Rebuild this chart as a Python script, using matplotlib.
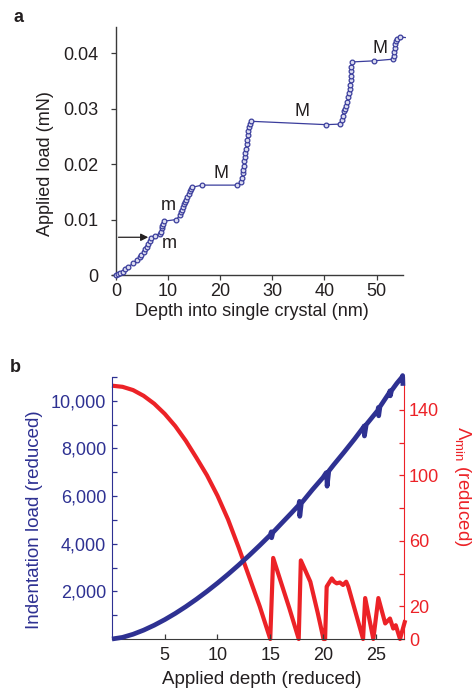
import matplotlib
matplotlib.use("Agg")
import matplotlib.pyplot as plt
import numpy as np

plt.rcParams['font.family'] = ['Liberation Sans', 'DejaVu Sans']
plt.rcParams['mathtext.fontset'] = 'custom'
plt.rcParams['mathtext.rm'] = 'Liberation Sans'
plt.rcParams['mathtext.it'] = 'Liberation Sans:italic'

# ---------------- Panel a data: depth (nm) vs applied load (mN)
depth_a = [0.1, 0.4, 0.8, 1.3, 1.8, 2.4, 3.3, 4.0, 4.6, 4.9, 5.3, 5.6, 5.9, 6.2,
           6.5, 6.8, 7.5, 8.4, 8.6, 8.75, 8.9, 9.05, 9.25, 11.6, 12.3, 12.5,
           12.7, 12.9, 13.1, 13.3, 13.5, 13.7, 14.0, 14.3, 14.45, 14.6, 16.5,
           23.3, 24.0, 24.2, 24.35, 24.45, 24.55, 24.65, 24.75, 24.85, 24.95,
           25.05, 25.15, 25.25, 25.35, 25.5, 25.7, 26.0, 40.3, 43.0, 43.3, 43.5,
           43.7, 43.9, 44.2, 44.4, 44.55, 44.7, 44.8, 44.9, 45.0, 45.05, 45.1,
           45.15, 45.25, 49.5, 53.1, 53.3, 53.4, 53.5, 53.6, 53.8, 54.0, 54.5,
           55.5]
load_a = [0.0, 0.0001, 0.0003, 0.0006, 0.0010, 0.0015, 0.0021, 0.0027, 0.0032,
          0.0036, 0.0042, 0.0046, 0.0051, 0.0056, 0.0061, 0.0066, 0.0070,
          0.0074, 0.0078, 0.0084, 0.0088, 0.0092, 0.0097, 0.0100, 0.0108,
          0.0113, 0.0118, 0.0123, 0.0128, 0.0132, 0.0136, 0.0140, 0.0146,
          0.0151, 0.0155, 0.0158, 0.0162, 0.0162, 0.0168, 0.0175, 0.0183,
          0.0190, 0.0197, 0.0205, 0.0212, 0.0220, 0.0228, 0.0236, 0.0244,
          0.0252, 0.0260, 0.0267, 0.0273, 0.0277, 0.0271, 0.0272, 0.0279,
          0.0287, 0.0295, 0.0300, 0.0305, 0.0312, 0.0320, 0.0328, 0.0335,
          0.0343, 0.0351, 0.0359, 0.0367, 0.0375, 0.0384, 0.0386, 0.0389,
          0.0395, 0.0402, 0.0409, 0.0416, 0.0422, 0.0426, 0.0429, 0.0428]
labels_a = ['m', 'm', 'M', 'M', 'M']
label_x_a = [10.0, 10.2, 20.2, 35.6, 50.6]
label_y_a = [0.0126, 0.0057, 0.0183, 0.0294, 0.0408]
xticks_a = [0, 10, 20, 30, 40, 50]
yticks_a = [0, 0.01, 0.02, 0.03, 0.04]
yticklabels_a = ['0', '0.01', '0.02', '0.03', '0.04']

# ---------------- Panel b data
depth_blue = [0, 1, 2, 3, 4, 5, 6, 7, 8, 9, 10, 11, 12, 13, 14, 15.0, 15.1, 15.13,
              15.25, 16, 17, 17.7, 17.77, 17.8, 17.95, 19, 20, 20.3, 20.36, 20.39,
              20.55, 21, 22, 23, 23.85, 23.9, 23.93, 24.1, 25.2, 25.25, 25.28,
              25.4, 26.3, 26.35, 26.38, 26.5, 27, 27.5, 27.55, 27.58]
load_blue = [0, 69, 200, 372, 578, 813, 1074, 1360, 1669, 1999, 2348, 2717, 3104,
             3508, 3929, 4366, 4500, 4250, 4470, 4823, 5287, 5620, 5780, 5150,
             5700, 6270, 6780, 6980, 6980, 6415, 7050, 7305, 7845, 8400, 8900,
             8946, 8524, 9000, 9600, 9720, 9370, 9750, 10350, 10420, 10210,
             10430, 10735, 11000, 11060, 10630]
depth_red = [0, 1, 2, 3, 4, 5, 6, 7, 8, 9, 10, 11, 12, 13, 14, 14.5, 15.0, 15.28,
             16.0, 16.8, 17.7, 17.9, 18.8, 19.5, 20.05, 20.2, 20.35, 20.45, 20.84,
             21.06, 21.3, 21.6, 21.9, 22.2, 22.4, 23.1, 23.8, 24.0, 24.77, 25.25,
             25.9, 26.35, 26.66, 26.9, 27.3, 27.8]
lambda_red = [154.7, 154, 152, 148.5, 143.7, 137.5, 130, 121, 110.7, 100, 87.5,
              73, 56, 38, 20, 10, 0, 49.5, 35, 19, 0, 48, 35, 16, 0, 0, 32, 33,
              37, 35, 34, 34.5, 33, 35, 32, 16, 0, 25, 0, 25, 9.5, 12.5, 6.4,
              8.4, 0, 11.5]
xticks_b = [5, 10, 15, 20, 25]
yticks_left = [1000, 2000, 3000, 4000, 5000, 6000, 7000, 8000, 9000, 10000, 11000]
yticklabels_left = ['', '2,000', '', '4,000', '', '6,000', '', '8,000', '', '10,000', '']
yticks_right = [0, 20, 40, 60, 80, 100, 120, 140, 160]
yticklabels_right = ['0', '20', '', '60', '', '100', '', '140', '']

BLUE_A = '#3a3d9c'
BLUE = '#2e3192'
RED = '#ec2227'
DARK = '#231f20'
W, H = 473, 690

fig = plt.figure(figsize=(W / 100, H / 100), dpi=100)

# ---------------- Panel a
ax1 = fig.add_axes([111.7 / W, 1 - 275 / H, (402.7 - 111.7) / W, (275 - 27) / H])
ax1.plot(depth_a, load_a, color=BLUE_A, lw=0.9, marker='o', ms=3.4, mew=0.9,
         mfc='#dcdcf0', mec=BLUE_A, markevery=list(range(len(depth_a) - 1)),
         clip_on=False, zorder=3)
ax1.set_xlim(-0.8, 55)
ax1.set_ylim(0, 0.0447)
ax1.spines['left'].set_position(('data', 0))
for s in ['top', 'right']:
    ax1.spines[s].set_visible(False)
for s in ['left', 'bottom']:
    ax1.spines[s].set_color('#3a3a3a')
    ax1.spines[s].set_linewidth(1.0)
ax1.set_xticks(xticks_a)
ax1.set_yticks(yticks_a)
ax1.set_yticklabels(yticklabels_a)
ax1.tick_params(axis='both', direction='out', length=3.5, width=0.9,
                colors='#3a3a3a', labelcolor=DARK, labelsize=13)
ax1.tick_params(axis='y', pad=9)
ax1.tick_params(axis='x', pad=2)
ax1.set_xlabel('Depth into single crystal (nm)', fontsize=13, color=DARK)
ax1.set_ylabel('Applied load (mN)', fontsize=13, color=DARK)
ax1.xaxis.set_label_coords(0.482, -0.149)
ax1.xaxis.label.set_va('center')
ax1.yaxis.set_label_coords(-0.228, 0.45)
ax1.yaxis.label.set_va('center')
for t, x, y in zip(labels_a, label_x_a, label_y_a):
    ax1.text(x, y, t, fontsize=13, color=DARK, ha='center', va='center')
ax1.annotate('', xy=(6.2, 0.0068), xytext=(0.5, 0.0068),
             arrowprops=dict(arrowstyle='-|>', color=DARK, lw=0.9,
                             mutation_scale=11, shrinkA=0, shrinkB=0))
fig.text(19 / W, 1 - 17 / H, 'a', fontsize=13, fontweight='bold', color=DARK,
         ha='center', va='center')

# ---------------- Panel b
ax2 = fig.add_axes([112 / W, 1 - 639 / H, (404 - 112) / W, (639 - 377) / H])
ax3 = ax2.twinx()
ax2.plot(depth_blue, load_blue, color=BLUE, lw=3.4, solid_capstyle='butt',
         clip_on=False, zorder=3)
ax3.plot(depth_red, lambda_red, color=RED, lw=3.0, solid_capstyle='butt',
         clip_on=False, zorder=2)
ax2.set_zorder(ax3.get_zorder() + 1)
ax2.patch.set_visible(False)
ax2.set_xlim(0, 27.68)
ax2.set_ylim(0, 11000)
ax3.set_ylim(0, 160)
for a in (ax2, ax3):
    a.spines['top'].set_visible(False)
ax2.spines['right'].set_visible(False)
ax3.spines['left'].set_visible(False)
ax3.spines['bottom'].set_visible(False)
ax2.spines['left'].set_color(BLUE)
ax2.spines['bottom'].set_color('#3a3a3a')
ax3.spines['right'].set_color(RED)
ax2.set_xticks(xticks_b)
ax2.set_yticks(yticks_left)
ax2.set_yticklabels(yticklabels_left)
ax3.set_yticks(yticks_right)
ax3.set_yticklabels(yticklabels_right)
ax2.tick_params(axis='x', direction='in', length=3.5, width=0.9, colors='#3a3a3a',
                labelcolor=DARK, labelsize=13, pad=6)
ax2.tick_params(axis='y', direction='in', length=3.5, width=0.9, colors=BLUE,
                labelcolor=BLUE, labelsize=13, pad=4.3)
ax3.tick_params(axis='y', direction='in', length=3.5, width=0.9, colors=RED,
                labelcolor=RED, labelsize=13, pad=3.6)
ax2.set_xlabel('Applied depth (reduced)', fontsize=13.5, color=DARK)
ax2.xaxis.set_label_coords(0.514, -0.156)
ax2.xaxis.label.set_va('center')
ax2.set_ylabel('Indentation load (reduced)', fontsize=13.5, color=BLUE)
ax2.yaxis.set_label_coords(-0.265, 0.454)
ax2.yaxis.label.set_va('center')
ax3.set_ylabel(r'$\mathit{\Lambda}_{\rm min}$ (reduced)', fontsize=13.5, color=RED,
               rotation=270)
ax3.yaxis.set_label_coords(1.202, 0.584)
ax3.yaxis.label.set_va('center')
fig.text(15 / W, 1 - 368 / H, 'b', fontsize=13, fontweight='bold', color=DARK,
         ha='center', va='center')

fig.savefig('out.png', dpi=100)
